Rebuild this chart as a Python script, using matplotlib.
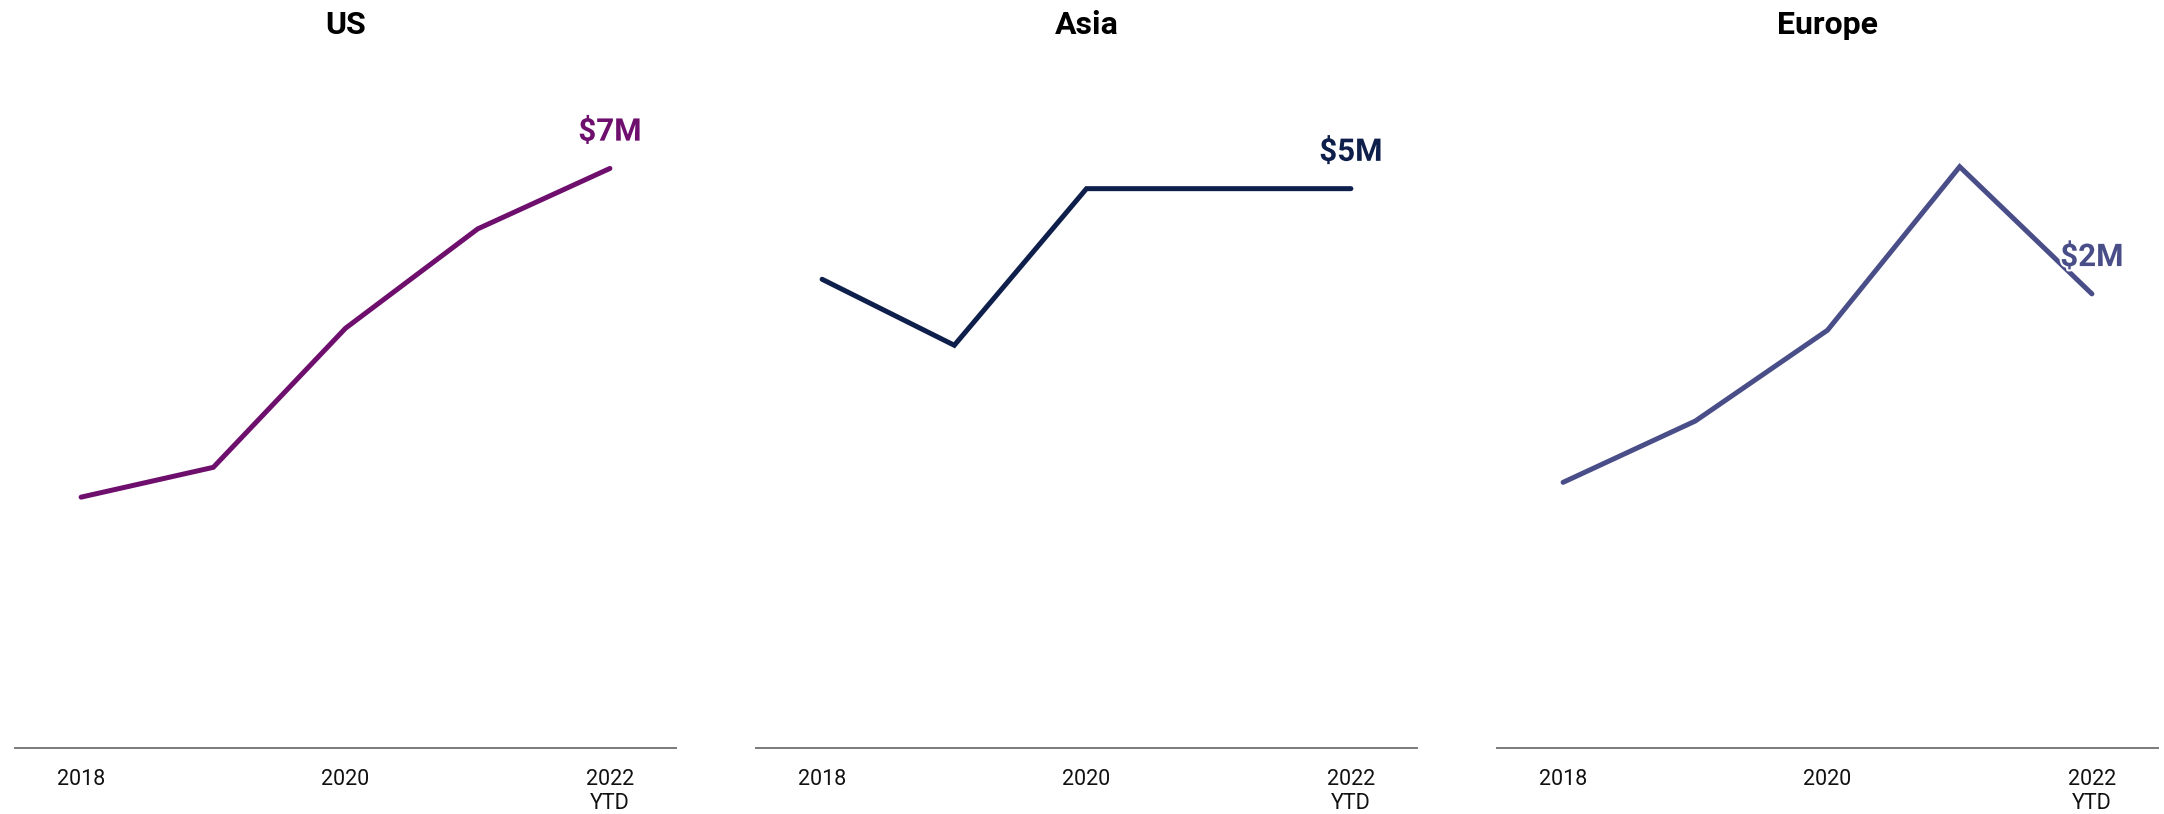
import matplotlib
matplotlib.use("Agg")
import matplotlib.pyplot as plt
import matplotlib.patheffects as pe

plt.rcParams["font.family"] = ["Roboto", "DejaVu Sans"]

years = [2018, 2019, 2020, 2021, 2022]
tick_years = [2018, 2020, 2022]
tick_labels = ["2018", "2020", "2022\nYTD"]

regions = ["US", "Asia", "Europe"]
us_vals = [3.03, 3.39, 5.07, 6.27, 7.0]       # $M
asia_vals = [4.19, 3.60, 5.0, 5.0, 5.0]
europe_vals = [1.17, 1.44, 1.84, 2.56, 2.0]
end_labels = ["$7M", "$5M", "$2M"]
colors = ["#6e0f6e", "#0f1f4b", "#4a4e88"]
ymax = [8.31, 6.15, 3.03]

series = [us_vals, asia_vals, europe_vals]

fig = plt.figure(figsize=(21.64, 8.14), dpi=100)
lefts = [15 / 2164, 756 / 2164, 1497 / 2164]
w = 661 / 2164
bottom = 66 / 814
h = 688 / 814

for i, name in enumerate(regions):
    ax = fig.add_axes([lefts[i], bottom, w, h])
    vals = series[i]
    ax.plot(years, vals, color=colors[i], lw=3.6, solid_capstyle="round",
            solid_joinstyle="miter")
    ax.annotate(end_labels[i], (years[-1], vals[-1]), xytext=(0, 26.5),
                textcoords="offset points", ha="center", va="center",
                fontsize=22.5, fontweight="bold", color=colors[i],
                path_effects=[pe.withStroke(linewidth=3, foreground="white")])
    ax.set_xlim(2017.5, 2022.5)
    ax.set_ylim(0, ymax[i])
    ax.set_xticks(tick_years)
    ax.set_xticklabels(tick_labels, fontsize=15.5, color="#111111",
                       linespacing=1.2)
    ax.tick_params(axis="x", length=0, pad=15)
    ax.set_yticks([])
    for s in ["top", "left", "right"]:
        ax.spines[s].set_visible(False)
    ax.spines["bottom"].set_color("#7a7a7a")
    ax.spines["bottom"].set_linewidth(1.4)
    ax.set_title(name, fontsize=23, fontweight="bold", color="black",
                 y=1.0, pad=0)
    ax.title.set_position((0.5, (814 - 25) / 814 / h - bottom / h))
    ax.title.set_va("center")

fig.savefig("out.png", dpi=100, facecolor="white")
